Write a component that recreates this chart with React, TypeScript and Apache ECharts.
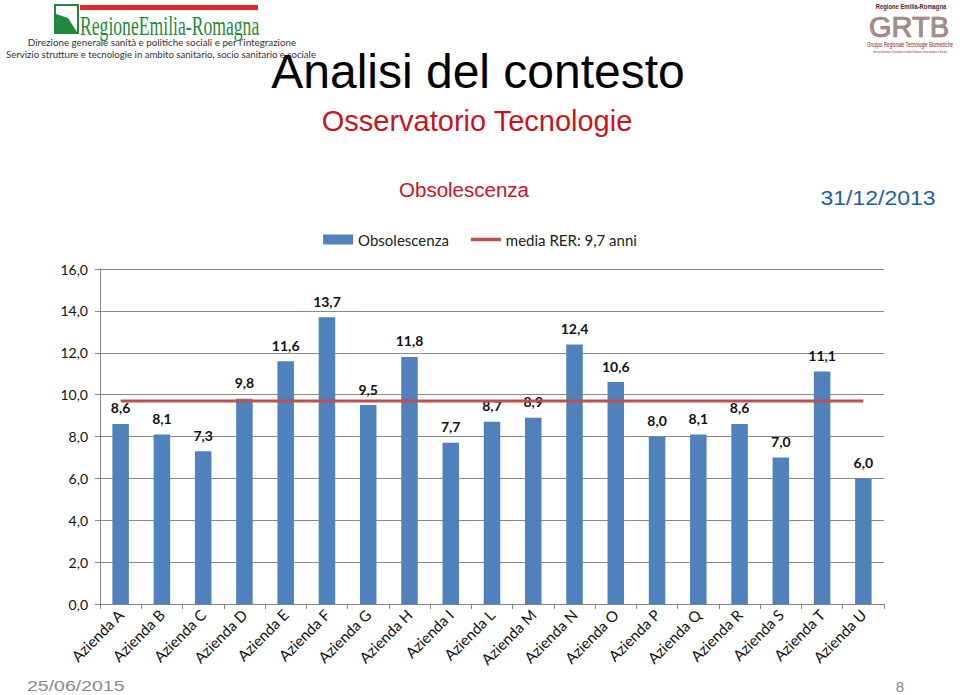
import React, { useEffect, useRef } from "react";
import * as echarts from "echarts";

const categories = [
  "Azienda A", "Azienda B", "Azienda C", "Azienda D", "Azienda E", "Azienda F",
  "Azienda G", "Azienda H", "Azienda I", "Azienda L", "Azienda M", "Azienda N",
  "Azienda O", "Azienda P", "Azienda Q", "Azienda R", "Azienda S", "Azienda T", "Azienda U",
];
const obsolescenza = [8.6, 8.1, 7.3, 9.8, 11.6, 13.7, 9.5, 11.8, 7.7, 8.7, 8.9, 12.4, 10.6, 8.0, 8.1, 8.6, 7.0, 11.1, 6.0];
const mediaRER = 9.7;
const mediaSeries = categories.map(() => mediaRER);
const yTicks = { min: 0, max: 16, interval: 2 };

const fmt = (v: number) => v.toFixed(1).replace(".", ",");

export default function App() {
  const ref = useRef<HTMLDivElement>(null);
  useEffect(() => {
    document.body.style.margin = "0";
    if (!ref.current) return;
    const chart = echarts.init(ref.current, null, { renderer: "svg" });
    const green = "#1f8a3b";
    chart.setOption({
      animation: false,
      backgroundColor: "#ffffff",
      textStyle: { fontFamily: "Lato" },
      legend: {
        top: 227,
        left: "center",
        itemWidth: 30,
        itemHeight: 10,
        itemGap: 22,
        textStyle: { fontFamily: "Lato", fontSize: 15, color: "#222" },
        data: [
          { name: "Obsolescenza", icon: "rect" },
          { name: "media RER: 9,7 anni", icon: "path://M0,0 L30,0 L30,3.5 L0,3.5 Z" },
        ],
      },
      grid: { left: 100, right: 76, top: 269, bottom: 91, containLabel: false },
      xAxis: {
        type: "category",
        data: categories,
        axisLine: { lineStyle: { color: "#868686", width: 1 } },
        axisTick: { show: true, length: 5, lineStyle: { color: "#868686" } },
        axisLabel: { rotate: 45, color: "#111", fontFamily: "Lato", fontSize: 15, margin: 8, interval: 0 },
      },
      yAxis: {
        type: "value",
        min: yTicks.min,
        max: yTicks.max,
        interval: yTicks.interval,
        axisLine: { show: true, lineStyle: { color: "#868686" } },
        axisTick: { show: true, length: 5, lineStyle: { color: "#868686" } },
        splitLine: { lineStyle: { color: "#8a8a8a", width: 1 } },
        axisLabel: { formatter: (v: number) => fmt(v), color: "#111", fontFamily: "Lato", fontSize: 14, margin: 12 },
      },
      series: [
        {
          name: "Obsolescenza",
          type: "bar",
          data: obsolescenza,
          barWidth: "40%",
          itemStyle: { color: "#4f81bd" },
          label: {
            show: true,
            position: "top",
            distance: 9,
            formatter: (p: any) => fmt(p.value),
            fontFamily: "Lato",
            fontWeight: "bold",
            fontSize: 14,
            color: "#111",
          },
          z: 2,
        },
        {
          name: "media RER: 9,7 anni",
          type: "line",
          data: mediaSeries,
          symbol: "none",
          showSymbol: false,
          lineStyle: { color: "#c0504d", width: 3 },
          itemStyle: { color: "#c0504d" },
          z: 3,
        },
      ],
      graphic: [
        // Left logo
        { type: "rect", shape: { x: 55, y: 5, width: 23, height: 28 }, style: { fill: "#fff", stroke: green, lineWidth: 2 } },
        { type: "polygon", shape: { points: [[56, 14], [68, 18], [77, 32], [56, 32]] }, style: { fill: green } },
        { type: "rect", shape: { x: 80, y: 5, width: 178, height: 5 }, style: { fill: "#e3262b" } },
        {
          type: "text", x: 80, y: 11, scaleX: 0.63,
          style: { text: "RegioneEmilia-Romagna", fontFamily: "Liberation Serif", fontSize: 28, fill: green, textVerticalAlign: "top" },
        },
        {
          type: "text", x: 162, y: 42,
          style: { text: "Direzione generale sanità e politiche sociali e per l\u2019integrazione", fontFamily: "Lato", fontSize: 9.8, fill: "#333", textAlign: "center", textVerticalAlign: "middle" },
        },
        {
          type: "text", x: 161, y: 54,
          style: { text: "Servizio strutture e tecnologie in ambito sanitario, socio sanitario e sociale", fontFamily: "Lato", fontSize: 9.6, fill: "#333", textAlign: "center", textVerticalAlign: "middle" },
        },
        // Right logo
        {
          type: "text", x: 911, y: 6, scaleX: 0.9,
          style: { text: "Regione Emilia-Romagna", fontFamily: "Liberation Sans", fontWeight: "bold", fontSize: 6.5, fill: "#5a1a1a", textAlign: "center", textVerticalAlign: "middle" },
        },
        {
          type: "text", x: 909, y: 27,
          style: { text: "GRTB", fontFamily: "Liberation Sans", fontSize: 29, fill: "#9a9090", stroke: "#b04040", lineWidth: 0.7, textAlign: "center", textVerticalAlign: "middle" },
        },
        {
          type: "text", x: 910, y: 45, scaleX: 0.66,
          style: { text: "Gruppo Regionale Tecnologie Biomediche", fontFamily: "Liberation Sans", fontSize: 7, fill: "#8a2020", textAlign: "center", textVerticalAlign: "middle" },
        },
        {
          type: "text", x: 910, y: 52, scaleX: 0.55,
          style: { text: "Servizio Strutture e Tecnologie in ambito Sanitario, Socio sanitario e Sociale", fontFamily: "Liberation Sans", fontSize: 4, fill: "#8a2020", textAlign: "center", textVerticalAlign: "middle" },
        },
        // Titles
        {
          type: "text", x: 478, y: 71,
          style: { text: "Analisi del contesto", fontFamily: "Liberation Sans", fontSize: 48, fill: "#000", textAlign: "center", textVerticalAlign: "middle" },
        },
        {
          type: "text", x: 477, y: 121,
          style: { text: "Osservatorio Tecnologie", fontFamily: "Liberation Sans", fontSize: 29, fill: "#c8141e", textAlign: "center", textVerticalAlign: "middle" },
        },
        {
          type: "text", x: 464, y: 189,
          style: { text: "Obsolescenza", fontFamily: "Liberation Sans", fontSize: 20.5, fill: "#c8141e", textAlign: "center", textVerticalAlign: "middle" },
        },
        {
          type: "text", x: 878, y: 198, scaleX: 1.15,
          style: { text: "31/12/2013", fontFamily: "Liberation Sans", fontSize: 20, fill: "#1f5f9f", textAlign: "center", textVerticalAlign: "middle" },
        },
        {
          type: "text", x: 27, y: 686, scaleX: 1.3,
          style: { text: "25/06/2015", fontFamily: "Liberation Sans", fontSize: 15, fill: "#8a8a8a", textAlign: "left", textVerticalAlign: "middle" },
        },
        {
          type: "text", x: 900, y: 686,
          style: { text: "8", fontFamily: "Liberation Sans", fontSize: 15, fill: "#8a8a8a", textAlign: "center", textVerticalAlign: "middle" },
        },
      ],
    });
    return () => chart.dispose();
  }, []);
  return <div ref={ref} style={{ width: 960, height: 695 }} />;
}
